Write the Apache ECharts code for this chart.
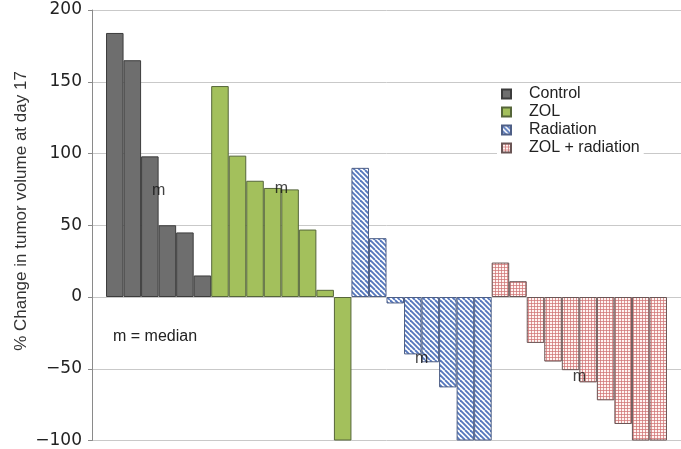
<!DOCTYPE html>
<html>
<head>
<meta charset="utf-8">
<script src="https://cdn.jsdelivr.net/npm/echarts@6/dist/echarts.min.js"></script>
<style>
  html, body { margin: 0; padding: 0; background: #ffffff; }
  #chart { width: 681px; height: 449px; }
</style>
</head>
<body>
<div id="chart"></div>
<script>
// ---- Data ----
const groupNames = ['Control', 'ZOL', 'Radiation', 'ZOL + radiation'];
const controlValues = [184, 165, 98, 50, 45, 15];
const zolValues = [147, 98.5, 81, 76, 75, 47, 5, -100];
const radiationValues = [90, 41, -4.5, -40, -45.5, -63, -100, -100];
const zolRadValues = [24, 11, -32, -45, -51, -59.5, -72, -88.5, -100, -100];
const yTicks = { min: -100, max: 200, interval: 50 };
const yAxisTitle = '% Change in tumor volume at day 17';
const medianNote = 'm = median';
const medianMark = 'm';

// ---- Layout ----
const GRID_LEFT = 92, GRID_RIGHT = 0, CHART_W = 681;
const X_MIN = -1.3, X_MAX = 32.3;
const bandPx = (CHART_W - GRID_LEFT - GRID_RIGHT) / (X_MAX - X_MIN);

// ---- Patterns ----
function makeStripePattern() {
  const c = document.createElement('canvas');
  c.width = 10; c.height = 10;
  const g = c.getContext('2d');
  g.fillStyle = '#ffffff';
  g.fillRect(0, 0, 10, 10);
  g.strokeStyle = '#5577bd';
  g.lineWidth = 1.9;
  for (let k = -10; k <= 10; k += 5) {
    g.beginPath();
    g.moveTo(k, 0);
    g.lineTo(k + 10, 10);
    g.stroke();
  }
  return c;
}
function makeGridPattern() {
  const c = document.createElement('canvas');
  c.width = 3; c.height = 3;
  const g = c.getContext('2d');
  g.fillStyle = '#fff4f2';
  g.fillRect(0, 0, 3, 3);
  g.fillStyle = 'rgba(208,118,118,0.75)';
  g.fillRect(0, 0, 3, 1);
  g.fillRect(0, 0, 1, 3);
  return c;
}

const groups = [controlValues, zolValues, radiationValues, zolRadValues];
const fills = [
  '#6e6e6e',
  '#a3c05c',
  { image: makeStripePattern(), repeat: 'repeat' },
  { image: makeGridPattern(), repeat: 'repeat' }
];
const borders = ['#3c3c3c', '#56663a', '#4e5f86', '#6a5555'];

function median(arr) {
  const s = arr.slice().sort((a, b) => a - b);
  const n = s.length;
  return n % 2 ? s[(n - 1) / 2] : (s[n / 2 - 1] + s[n / 2]) / 2;
}

const series = [];
const medianPoints = [];
let offset = 0;
groups.forEach((vals, gi) => {
  series.push({
    name: groupNames[gi],
    type: 'bar',
    barGap: '-100%',
    barCategoryGap: '0%',
    barWidth: bandPx,
    itemStyle: { color: fills[gi], borderColor: borders[gi], borderWidth: 1 },
    data: vals.map((v, i) => [offset + i, v])
  });
  medianPoints.push([offset + vals.length / 2 - 0.5, median(vals)]);
  offset += vals.length;
});

series.push({
  name: 'median',
  type: 'scatter',
  symbolSize: 2,
  itemStyle: { color: 'rgba(0,0,0,0)' },
  z: 10,
  label: {
    show: true, position: 'inside', formatter: medianMark,
    fontFamily: 'Liberation Sans, Arial, sans-serif', fontSize: 16, color: '#111'
  },
  data: medianPoints
});

const chart = echarts.init(document.getElementById('chart'), null, { renderer: 'canvas' });
chart.setOption({
  animation: false,
  backgroundColor: '#ffffff',
  textStyle: { fontFamily: 'Liberation Sans, Arial, sans-serif' },
  grid: { left: GRID_LEFT, right: GRID_RIGHT, top: 10, bottom: 7.5, containLabel: false },
  xAxis: {
    type: 'value', min: X_MIN, max: X_MAX, show: false
  },
  yAxis: {
    type: 'value', min: yTicks.min, max: yTicks.max, interval: yTicks.interval,
    axisLine: { show: true, onZero: false, lineStyle: { color: '#8a8a8a', width: 1 } },
    axisTick: { show: true, length: 4, lineStyle: { color: '#8a8a8a' } },
    splitLine: { show: true, lineStyle: { color: '#c9c9c9', width: 1 } },
    axisLabel: {
      margin: 10, fontSize: 17, color: '#222',
      fontFamily: 'DejaVu Sans, Liberation Sans, sans-serif',
      formatter: v => (v < 0 ? '\u2212' + Math.abs(v) : String(v))
    }
  },
  legend: {
    data: groupNames,
    orient: 'vertical',
    left: 497, top: 84,
    padding: [2, 4, 2, 4],
    itemGap: 2,
    itemWidth: 9, itemHeight: 9,
    icon: 'rect',
    formatter: name => '{t|' + name + '}',
    textStyle: {
      fontSize: 16, color: '#222',
      rich: { t: { fontSize: 16, color: '#222', padding: [0, 0, 0, 13] } }
    },
    backgroundColor: '#ffffff'
  },
  graphic: [
    {
      type: 'text', x: 21, y: 211, rotation: Math.PI / 2,
      style: {
        text: yAxisTitle, fontSize: 17, fill: '#333',
        fontFamily: 'Liberation Sans, Arial, sans-serif',
        textAlign: 'center', textVerticalAlign: 'middle'
      }
    },
    {
      type: 'text', x: 113, y: 337,
      style: {
        text: medianNote, fontSize: 16, fill: '#222',
        fontFamily: 'Liberation Sans, Arial, sans-serif',
        textAlign: 'left', textVerticalAlign: 'middle'
      }
    }
  ],
  series: series
});
</script>
</body>
</html>
